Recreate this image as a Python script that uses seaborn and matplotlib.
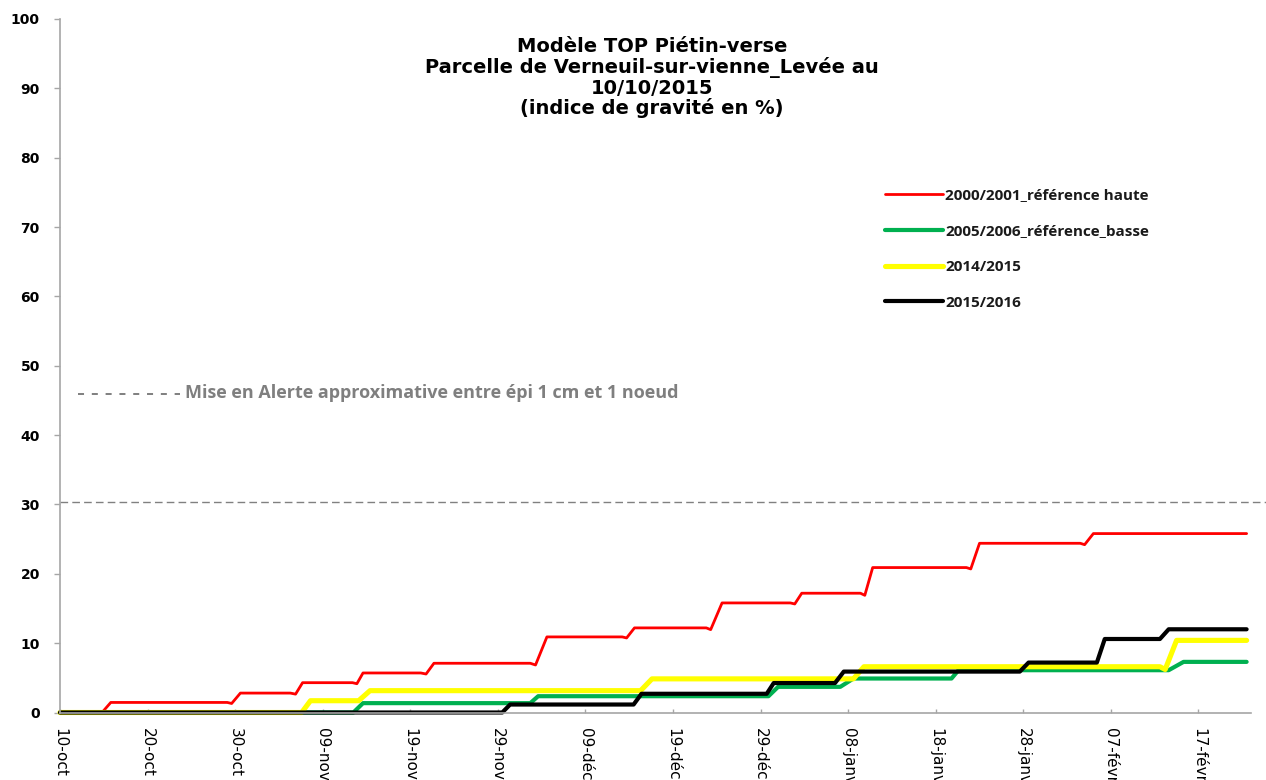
import seaborn as sns
import matplotlib.pyplot as plt
import pandas as pd
from matplotlib.lines import Line2D

# days counted from 10-oct
red_days = [0, 4.8, 5.8, 19.1, 19.6, 20.6, 26.3, 26.9, 27.7, 33.4, 33.9, 34.6, 41.2, 41.8, 42.7,
            53.7, 54.3, 55.6, 64.2, 64.7, 65.6, 73.8, 74.3, 75.6, 83.4, 83.9, 84.7,
            91.4, 91.9, 92.8, 103.5, 104.0, 105.0, 116.5, 117.0, 118.0, 135.5]
red_vals = [0, 0, 1.45, 1.45, 1.3, 2.8, 2.8, 2.65, 4.3, 4.3, 4.15, 5.7, 5.7, 5.55, 7.1,
            7.1, 6.85, 10.9, 10.9, 10.75, 12.2, 12.2, 11.95, 15.8, 15.8, 15.65, 17.2,
            17.2, 16.9, 20.9, 20.9, 20.7, 24.4, 24.4, 24.2, 25.8, 25.8]

green_days = [0, 33.5, 34.6, 53.7, 54.6, 80.9, 82.0, 89.1, 90.6, 101.8, 102.6, 126.6, 128.3, 135.5]
green_vals = [0, 0, 1.35, 1.35, 2.35, 2.35, 3.7, 3.7, 4.9, 4.9, 6.1, 6.1, 7.3, 7.3]

yellow_days = [0, 27.6, 28.6, 34.1, 35.4, 66.3, 67.6, 90.6, 91.8, 125.6, 126.2, 127.5, 135.5]
yellow_vals = [0, 0, 1.7, 1.7, 3.15, 3.15, 4.85, 4.85, 6.6, 6.6, 6.2, 10.4, 10.4]

black_days = [0, 50.5, 51.4, 65.5, 66.4, 80.7, 81.5, 88.5, 89.5, 109.6, 110.6, 118.4, 119.3,
              125.6, 126.6, 135.5]
black_vals = [0, 0, 1.15, 1.15, 2.7, 2.7, 4.25, 4.25, 5.9, 5.9, 7.2, 7.2, 10.6, 10.6, 12.0, 12.0]

tick_days = [0, 10, 20, 30, 40, 50, 60, 70, 80, 90, 100, 110, 120, 130]
tick_labels = ["10-oct", "20-oct", "30-oct", "09-nov", "19-nov", "29-nov", "09-déc",
               "19-déc", "29-déc", "08-janv", "18-janv", "28-janv", "07-févr", "17-févr"]

alert_level = 30.4

title_lines = ["Modèle TOP Piétin-verse", "Parcelle de Verneuil-sur-vienne_Levée au",
               "10/10/2015", "(indice de gravité en %)"]

series = [
    ("2000/2001_référence haute", red_days, red_vals, "#ff0000", 2.0),
    ("2005/2006_référence_basse", green_days, green_vals, "#00b050", 3.0),
    ("2014/2015", yellow_days, yellow_vals, "#ffff00", 3.7),
    ("2015/2016", black_days, black_vals, "#000000", 3.0),
]

sns.set_theme(style="white")
plt.rcParams['font.family'] = ['DejaVu Sans']

fig = plt.figure(figsize=(12.66, 7.8), dpi=100)
ax = fig.add_axes([60 / 1266, 1 - 712.5 / 780, (1251 - 60) / 1266, (712.5 - 19) / 780])

for name, d, v, col, lw in series:
    df = pd.DataFrame({"jour": d, "indice": v})
    sns.lineplot(data=df, x="jour", y="indice", color=col, linewidth=lw, label=name,
                 ax=ax, clip_on=False, solid_joinstyle="round")

ax.axhline(alert_level, xmin=0, xmax=1.013, color="#808080", linewidth=1.0,
           dashes=(5.5, 3), clip_on=False)

ax.set_xlim(0, 136)
ax.set_ylim(0, 100)
ax.set_yticks(range(0, 101, 10))
ax.set_xticks(tick_days)
ax.set_xticklabels(tick_labels, rotation=-90, fontsize=11, color="black")
ax.set_yticklabels([str(t) for t in range(0, 101, 10)], fontsize=10,
                   fontweight="bold", color="black")
ax.set_xlabel("")
ax.set_ylabel("")

for s in ["top", "right"]:
    ax.spines[s].set_visible(False)
for s in ["left", "bottom"]:
    ax.spines[s].set_color("#a6a6a6")
    ax.spines[s].set_linewidth(1.2)

ax.tick_params(axis="y", direction="out", length=4.5, width=1, color="#a6a6a6", pad=10, left=True)
ax.tick_params(axis="x", direction="in", length=3, width=1, color="#a6a6a6", pad=11, bottom=True)

# title, one line at a time (baselines)
for line, base in zip(title_lines, [52, 73, 94, 114]):
    fig.text(652 / 1266, 1 - base / 780, line, ha="center", va="baseline",
             fontsize=14, fontweight="bold", color="black")

# alert note: short dashed stroke + grey text
fig.add_artist(Line2D([78 / 1266, 180 / 1266], [1 - 394 / 780, 1 - 394 / 780],
                      transform=fig.transFigure, color="#7f7f7f", linewidth=1.4,
                      dashes=(3.1, 4.0)))
fig.text(185 / 1266, 1 - 393 / 780,
         "Mise en Alerte approximative entre épi 1 cm et 1 noeud",
         ha="left", va="center", fontsize=13, fontweight="bold", color="#7f7f7f",
         family=["Open Sans", "DejaVu Sans"])

leg = ax.legend(loc="upper left", bbox_to_anchor=(885 / 1266, 1 - 188.5 / 780),
                bbox_transform=fig.transFigure, frameon=False, borderpad=0,
                borderaxespad=0, handlelength=3.8, handletextpad=0.15,
                labelspacing=1.42, prop={"family": ["Open Sans", "DejaVu Sans"],
                                         "weight": "bold", "size": 11})
for t in leg.get_texts():
    t.set_color("#1a1a1a")

fig.savefig("out.png", dpi=100)
